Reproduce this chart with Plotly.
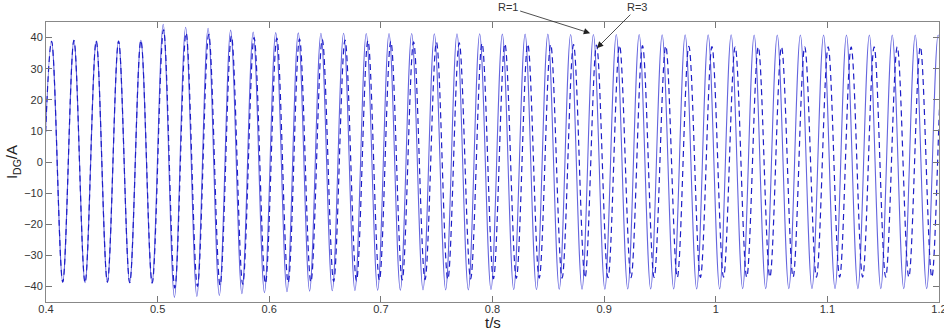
import plotly.graph_objects as go

# ---- data (times in s, current in A) ----
r1_peak_t = [0.405, 0.425, 0.445, 0.465, 0.485, 0.505, 0.5251, 0.5452, 0.5654, 0.5856,
             0.6058, 0.6260, 0.6463, 0.6666, 0.6869, 0.7073, 0.7276, 0.7479, 0.7682, 0.7885,
             0.8088, 0.8292, 0.8496, 0.8700, 0.8904, 0.9109, 0.9314, 0.9520, 0.9726, 0.9932,
             1.0138, 1.0344, 1.0551, 1.0758, 1.0966, 1.1171, 1.1376, 1.1581, 1.1787, 1.1992]
r1_peak_v = [38.8, 39.1, 38.9, 38.9, 39.1, 44.3, 43.3, 43.0, 42.4, 41.8,
             41.6, 41.5, 41.4, 41.4, 41.3, 41.3, 41.3, 41.2, 41.2, 41.2,
             41.1, 41.1, 41.1, 41.0, 41.0, 41.0, 41.0, 40.9, 40.9, 40.9,
             40.9, 40.8, 40.8, 40.8, 40.8, 40.8, 40.8, 40.8, 40.8, 40.8]
r1_trough_v = [-38.6, -38.6, -38.8, -38.6, -38.8, -38.9, -43.5, -43.2, -42.9, -42.3,
               -42.0, -41.7, -41.5, -41.4, -41.3, -41.2, -41.2, -41.1, -41.1, -41.1,
               -41.0, -41.0, -41.0, -40.9, -40.9, -40.9, -40.8, -40.8, -40.8, -40.8,
               -40.8, -40.7, -40.7, -40.7, -40.7, -40.7, -40.7, -40.7, -40.7, -40.7, -40.7]

r3_peak_t = [0.405, 0.425, 0.445, 0.465, 0.485, 0.5053, 0.5255, 0.5458, 0.5661, 0.5864,
             0.6068, 0.6271, 0.6475, 0.6679, 0.6884, 0.7089, 0.7293, 0.7498, 0.7702, 0.7906,
             0.8111, 0.8316, 0.8521, 0.8726, 0.8932, 0.9138, 0.9344, 0.9552, 0.9759, 0.9966,
             1.0174, 1.0381, 1.0589, 1.0797, 1.1007, 1.1213, 1.1419, 1.1626, 1.1833, 1.2039]
r3_peak_v = [38.8, 39.1, 38.9, 38.9, 39.1, 42.5, 41.5, 41.0, 40.5, 40.0,
             39.8, 39.6, 39.4, 39.2, 39.0, 38.8, 38.6, 38.5, 38.3, 38.2,
             38.0, 37.9, 37.8, 37.7, 37.6, 37.5, 37.4, 37.3, 37.2, 37.1,
             37.0, 37.0, 37.0, 37.0, 37.0, 37.0, 37.0, 37.0, 37.0, 37.0]
r3_trough_v = [-38.6, -38.6, -38.8, -38.6, -38.8, -38.9, -40.5, -40.0, -39.6, -39.3,
               -39.0, -38.8, -38.6, -38.4, -38.2, -38.0, -37.9, -37.8, -37.7, -37.6,
               -37.5, -37.4, -37.3, -37.3, -37.2, -37.2, -37.2, -37.1, -37.1, -37.1,
               -37.0, -37.0, -37.0, -37.0, -37.0, -37.0, -37.0, -37.0, -37.0, -37.0, -37.0]

x_tick_vals = [0.4, 0.5, 0.6, 0.7, 0.8, 0.9, 1.0, 1.1, 1.2]
x_tick_text = ["0.4", "0.5", "0.6", "0.7", "0.8", "0.9", "1", "1.1", "1.2"]
y_tick_vals = [-40, -30, -20, -10, 0, 10, 20, 30, 40]

series_names = ["R=1", "R=3"]
x_title = "t/s"
y_title = "I<sub>DG</sub>/A"


def extremes(peak_t, peak_v, trough_v):
    """Alternate trough / peak points; troughs sit between successive peaks."""
    tt = [peak_t[0] - (peak_t[1] - peak_t[0]) / 2]
    for a, b in zip(peak_t[:-1], peak_t[1:]):
        tt.append((a + b) / 2)
    tt.append(peak_t[-1] + (peak_t[-1] - peak_t[-2]) / 2)
    xs, ys = [], []
    for i in range(len(peak_t)):
        xs += [tt[i], peak_t[i]]
        ys += [trough_v[i], peak_v[i]]
    xs.append(tt[-1])
    ys.append(trough_v[-1])
    return xs, ys


x1, y1 = extremes(r1_peak_t, r1_peak_v, r1_trough_v)
x3, y3 = extremes(r3_peak_t, r3_peak_v, r3_trough_v)

FONT = "Liberation Sans, Arial, sans-serif"

fig = go.Figure()
fig.add_trace(go.Scatter(x=x1, y=y1, mode="lines", name=series_names[0],
                         line=dict(color="rgb(100,100,222)", width=1.1,
                                   shape="spline", smoothing=1.0)))
fig.add_trace(go.Scatter(x=x3, y=y3, mode="lines", name=series_names[1],
                         line=dict(color="rgb(30,30,200)", width=1.2, dash="6px,4px",
                                   shape="spline", smoothing=1.0)))

axis_common = dict(showline=True, mirror="ticks", ticks="inside", ticklen=6,
                   tickcolor="#777", linecolor="#888", linewidth=1,
                   showgrid=False, zeroline=False, automargin=False,
                   tickfont=dict(family=FONT, size=11, color="#333"))

fig.update_xaxes(range=[0.4, 1.2], tickvals=x_tick_vals, ticktext=x_tick_text,
                 ticklabeloverflow="allow", ticklabelstandoff=-3, **axis_common)
fig.update_yaxes(range=[-45, 45], tickvals=y_tick_vals,
                 title=dict(text=y_title,
                            font=dict(family=FONT, size=15, color="#222"),
                            standoff=2),
                 **axis_common)

# x-axis title placed just under the tick labels
fig.add_annotation(x=0.5, y=-0.072, xref="paper", yref="paper", text=x_title,
                   showarrow=False, yanchor="middle",
                   font=dict(family=FONT, size=15, color="#222"))

fig.add_annotation(x=0.8875, y=41.4, text=series_names[0], showarrow=True,
                   ax=-82, ay=-26, arrowhead=2, arrowsize=1.6, arrowwidth=0.8,
                   arrowcolor="#222", font=dict(family=FONT, size=11, color="#333"))
fig.add_annotation(x=0.8935, y=36.6, text=series_names[1], showarrow=True,
                   ax=41, ay=-41, arrowhead=2, arrowsize=1.6, arrowwidth=0.8,
                   arrowcolor="#222", font=dict(family=FONT, size=11, color="#333"))

fig.update_layout(width=944, height=331, showlegend=False,
                  margin=dict(l=46, r=5, t=22, b=29),
                  plot_bgcolor="white", paper_bgcolor="white")

fig.write_html("out.html", config={"displayModeBar": False},
               post_script="document.body.style.margin='0';document.body.style.padding='0';")
